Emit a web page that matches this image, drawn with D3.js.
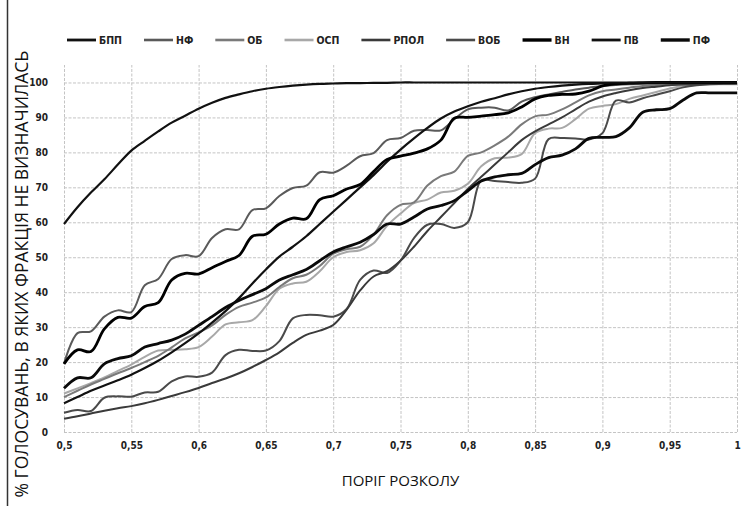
<!DOCTYPE html>
<html>
<head>
<meta charset="utf-8">
<script src="https://cdn.jsdelivr.net/npm/d3@7"></script>
<style>
  body { margin: 0; background: #fff; }
  svg { display: block; font-family: "DejaVu Sans Condensed", "DejaVu Sans", sans-serif; }
</style>
</head>
<body>
<svg id="chart" width="754" height="506"></svg>
<script>
// порги розколу (вісь X)
var thresholds = [0.50, 0.51, 0.52, 0.53, 0.54, 0.55, 0.56, 0.57, 0.58, 0.59,
                  0.60, 0.61, 0.62, 0.63, 0.64, 0.65, 0.66, 0.67, 0.68, 0.69,
                  0.70, 0.71, 0.72, 0.73, 0.74, 0.75, 0.76, 0.77, 0.78, 0.79,
                  0.80, 0.81, 0.82, 0.83, 0.84, 0.85, 0.86, 0.87, 0.88, 0.89,
                  0.90, 0.91, 0.92, 0.93, 0.94, 0.95, 0.96, 0.97, 0.98, 0.99, 1.00];

var factions = ["БПП", "НФ", "ОБ", "ОСП", "РПОЛ", "ВОБ", "ВН", "ПВ", "ПФ"];

var xTicks = [0.5, 0.55, 0.6, 0.65, 0.7, 0.75, 0.8, 0.85, 0.9, 0.95, 1];
var yTicks = [0, 10, 20, 30, 40, 50, 60, 70, 80, 90, 100];

// % голосувань, в яких фракція не визначилась
var bpp  = [59.5, 64.3, 68.5, 72.3, 76.5, 80.5, 83.3, 86, 88.5, 90.5,
            92.5, 94.2, 95.6, 96.6, 97.5, 98.2, 98.7, 99.1, 99.4, 99.6,
            99.7, 99.8, 99.8, 99.9, 99.9, 100, 100, 100, 100, 100,
            100, 100, 100, 100, 100, 100, 100, 100, 100, 100,
            100, 100, 100, 100, 100, 100, 100, 100, 100, 100, 100];
var nf   = [19.5, 28.3, 28.8, 33, 34.8, 34.3, 42, 43.8, 49.5, 50.6,
            50.3, 55.5, 58, 58, 63.5, 64, 67.5, 69.8, 70.5, 74.3,
            74.2, 76.2, 78.9, 79.8, 83.5, 84.1, 86.2, 86.4, 86.3, 89.5,
            92.3, 92.8, 92.8, 92, 94.5, 95.8, 96.6, 97.3, 98, 98.5,
            99, 99.3, 99.5, 99.6, 99.7, 99.8, 99.8, 99.9, 99.9, 100, 100];
var ob   = [10, 11.8, 13.6, 15.2, 16.8, 18.3, 20, 21.8, 24.2, 26.8,
            28.5, 30.5, 33.5, 35.8, 37, 38.5, 41.5, 44, 45, 47.5,
            51, 52.3, 53, 56.5, 62, 65, 65.7, 70.5, 73.2, 74.5,
            79, 80, 82, 84.5, 88, 90.3, 90.8, 92.3, 94.3, 96.3,
            97.5, 98, 98.5, 99, 99.3, 99.5, 99.7, 99.8, 100, 100, 100];
var osp  = [11, 12.5, 14, 15.6, 17.5, 19.3, 21.5, 23.3, 23.5, 23.7,
            24.3, 27.3, 30.8, 31.4, 32, 36, 41, 42.5, 43, 46,
            50, 51.5, 52, 54, 59, 62.5, 65.5, 66.5, 68.5, 69,
            71, 76, 78.3, 78.5, 79.5, 85.5, 86.8, 87, 89.5, 92.5,
            93.3, 93.8, 95.3, 96.3, 97.3, 98.3, 99, 99.3, 99.5, 99.5, 99.5];
var rpol = [3.8, 4.5, 5.3, 6.1, 6.8, 7.4, 8.2, 9.2, 10.3, 11.4,
            12.6, 14, 15.3, 16.8, 18.6, 20.6, 22.8, 25.5, 27.8, 29,
            30.6, 35, 40.5, 44.5, 46, 49, 53, 57.5, 61.5, 65.5,
            69.5, 73, 76.5, 80, 83.5, 86, 88, 90, 92.3, 94.5,
            96, 97, 97.8, 98.4, 98.8, 99.2, 99.4, 99.5, 99.6, 99.7, 99.7];
var vob  = [5.5, 6.3, 6, 9.8, 10.2, 10.1, 11.3, 11.5, 14.5, 15.9,
            15.8, 17, 22, 23.5, 23.2, 23.3, 26, 32.5, 33.5, 33.4,
            33, 35.2, 43.5, 46.2, 45.5, 49, 55.5, 59.3, 59.5, 58.4,
            60, 72, 71.8, 71.5, 71.3, 72.5, 83.8, 84.1, 84, 83.7,
            85.5, 94.8, 94.3, 95.5, 96.5, 97.5, 98.6, 99.2, 99.5, 99.6, 99.7];
var vn   = [19.5, 23.5, 23, 29.5, 32.8, 32.6, 35.9, 37, 43.5, 45.4,
            45.2, 47, 48.8, 50.5, 56, 56.6, 59.5, 61.2, 61, 66.5,
            67.6, 69.5, 70.8, 74.5, 78, 78.9, 79.8, 81, 83.5, 89.8,
            90, 90.4, 90.8, 91.3, 93, 95.3, 96.3, 96.6, 96.7, 97.5,
            99, 99.6, 99.8, 99.9, 100, 100, 100, 100, 100, 100, 100];
var pv   = [8.2, 10, 11.8, 13.3, 14.8, 16.4, 18.3, 20.4, 22.8, 25.4,
            28.2, 31.3, 34.6, 38.3, 42.5, 46.5, 50.2, 53, 56, 59.5,
            63, 66.5, 70, 73.5, 77.3, 80.8, 84, 87, 89.7, 91.7,
            93.2, 94.5, 95.5, 96.6, 97.5, 98.2, 98.7, 99.1, 99.4, 99.6,
            99.7, 99.8, 99.8, 99.9, 99.9, 100, 100, 100, 100, 100, 100];
var pf   = [12.5, 15.5, 15.5, 19.5, 21, 21.8, 24.3, 25.3, 26.3, 28,
            30.5, 33, 35.6, 37.6, 39.3, 41, 43.5, 45, 46.5, 49,
            51.5, 53, 54.3, 56.5, 59.5, 59.5, 61.5, 63.8, 64.8, 66.2,
            69, 71.8, 73, 73.6, 74, 76.5, 78.5, 79.2, 81, 84,
            84.3, 84.5, 87, 91.5, 92.2, 92.5, 95, 97, 97, 97, 97];

var seriesValues = [bpp, nf, ob, osp, rpol, vob, vn, pv, pf];

// оформлення ліній
var lineColor = { "БПП": "#111", "НФ": "#5a5a5a", "ОБ": "#7a7a7a", "ОСП": "#a8a8a8", "РПОЛ": "#3a3a3a",
                  "ВОБ": "#4a4a4a", "ВН": "#000", "ПВ": "#111", "ПФ": "#0a0a0a" };
var lineWidth = { "БПП": 2.2, "НФ": 2, "ОБ": 2, "ОСП": 2, "РПОЛ": 2,
                  "ВОБ": 2, "ВН": 2.8, "ПВ": 2.2, "ПФ": 2.8 };
var drawOrder = ["ОСП", "ОБ", "НФ", "ВОБ", "РПОЛ", "ПВ", "ПФ", "ВН", "БПП"];

var svg = d3.select("#chart");
var margin = {top: 65, right: 17, bottom: 74, left: 64},
    width = 754 - margin.left - margin.right,
    height = 506 - margin.top - margin.bottom;

var x = d3.scaleLinear().domain([0.5, 1]).range([0, width]);
var y = d3.scaleLinear().domain([0, 105]).range([height, 0]);

// рамка зліва
svg.append("line")
  .attr("x1", 7.5).attr("x2", 7.5).attr("y1", 0).attr("y2", 506)
  .attr("stroke", "#333").attr("stroke-width", 1.5);

var g = svg.append("g")
  .attr("transform", "translate(" + margin.left + "," + margin.top + ")");

// сітка
g.append("g")
  .attr("class", "grid-x")
  .attr("transform", "translate(0," + height + ")")
  .call(d3.axisBottom(x).tickValues(xTicks).tickSize(-height).tickFormat(""))
  .call(function(s) { s.select(".domain").remove(); });

g.append("g")
  .attr("class", "grid-y")
  .call(d3.axisLeft(y).tickValues(yTicks).tickSize(-width).tickFormat(""))
  .call(function(s) { s.select(".domain").remove(); });

g.selectAll(".grid-x line, .grid-y line")
  .attr("stroke", "#c4c4c4")
  .attr("stroke-width", 1)
  .attr("stroke-dasharray", "3,1.5");

// підписи осей
var fmt = function(d) { return String(+d.toFixed(2)).replace(".", ","); };

g.append("g")
  .attr("transform", "translate(0," + height + ")")
  .call(d3.axisBottom(x).tickValues(xTicks).tickSize(0).tickPadding(10).tickFormat(fmt))
  .call(function(s) {
    s.select(".domain").remove();
    s.selectAll("text").attr("font-size", 10).attr("font-weight", "bold").attr("fill", "#222")
      .attr("font-family", "\"DejaVu Sans Condensed\", sans-serif");
  });

g.append("g")
  .call(d3.axisLeft(y).tickValues(yTicks).tickSize(0).tickPadding(16))
  .call(function(s) {
    s.select(".domain").remove();
    s.selectAll("text").attr("font-size", 10).attr("font-weight", "bold").attr("fill", "#222")
      .attr("font-family", "\"DejaVu Sans Condensed\", sans-serif");
  });

// лінії фракцій
var line = d3.line()
  .x(function(d) { return x(d[0]); })
  .y(function(d) { return y(d[1]); })
  .curve(d3.curveCatmullRom.alpha(0.5));

drawOrder.forEach(function(name) {
  var vals = seriesValues[factions.indexOf(name)];
  var pts = thresholds.map(function(t, i) { return [t, vals[i]]; });
  g.append("path")
    .datum(pts)
    .attr("fill", "none")
    .attr("stroke", lineColor[name])
    .attr("stroke-width", lineWidth[name])
    .attr("stroke-linejoin", "round")
    .attr("d", line);
});

// легенда
var legend = svg.append("g").attr("transform", "translate(67,40)");
var lx = 0;
factions.forEach(function(name) {
  var item = legend.append("g").attr("transform", "translate(" + lx + ",0)");
  item.append("line")
    .attr("x1", 0).attr("x2", 29).attr("y1", 0).attr("y2", 0)
    .attr("stroke", lineColor[name])
    .attr("stroke-width", lineWidth[name] + 0.6);
  var t = item.append("text")
    .attr("x", 32).attr("y", 4)
    .attr("font-size", 10.5).attr("font-weight", "bold").attr("fill", "#222")
    .text(name);
  lx += 32 + t.node().getComputedTextLength() + 22;
});

// назви осей
svg.append("text")
  .attr("x", margin.left + width / 2).attr("y", 486)
  .attr("text-anchor", "middle")
  .attr("font-family", "\"Open Sans\", sans-serif")
  .attr("font-size", 15).attr("fill", "#111")
  .text("ПОРІГ РОЗКОЛУ");

svg.append("text")
  .attr("transform", "translate(28,274) rotate(-90)")
  .attr("text-anchor", "middle")
  .attr("font-family", "\"Open Sans\", sans-serif")
  .attr("font-size", 17.5).attr("fill", "#111")
  .text("% ГОЛОСУВАНЬ, В ЯКИХ ФРАКЦІЯ НЕ ВИЗНАЧИЛАСЬ");
</script>
</body>
</html>
